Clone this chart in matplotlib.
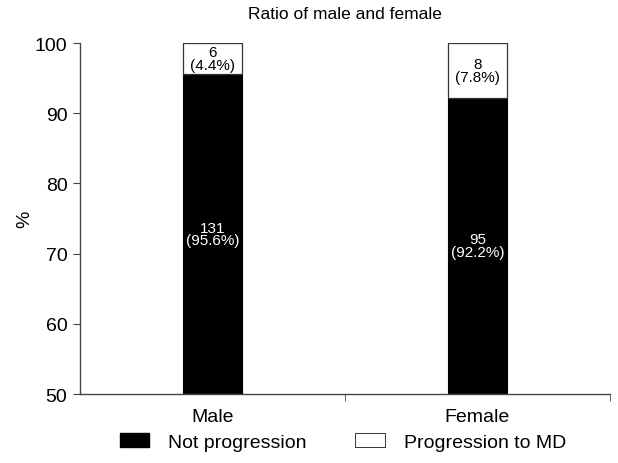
import matplotlib
matplotlib.use("Agg")
import matplotlib.pyplot as plt
from matplotlib.patches import Patch

plt.rcParams['font.family'] = ['Liberation Sans', 'DejaVu Sans']

categories = ["Male", "Female"]
not_prog_n = [131, 95]
not_prog_pct = [95.6, 92.2]
prog_n = [6, 8]
prog_pct = [4.4, 7.8]
y_min, y_max = 50, 100
yticks = [50, 60, 70, 80, 90, 100]

fig = plt.figure(figsize=(6.18, 4.64), dpi=100)
ax = fig.add_axes([0.1294, 0.1487, 0.8576, 0.7563])

x = list(range(len(categories)))
w = 0.22
bottoms = [y_min] * len(x)
heights_black = [p - y_min for p in not_prog_pct]
ax.bar(x, heights_black, bottom=bottoms, width=w, color='black', edgecolor='black', linewidth=0.8, zorder=2)
ax.bar(x, prog_pct, bottom=not_prog_pct, width=w, color='white', edgecolor='#333333', linewidth=0.9, zorder=2)

for i in x:
    ax.text(i, (y_min + not_prog_pct[i]) / 2, f"{not_prog_n[i]}\n({not_prog_pct[i]}%)",
            ha='center', va='center', color='white', fontsize=11, linespacing=0.9)
    ax.text(i, not_prog_pct[i] + prog_pct[i] / 2, f"{prog_n[i]}\n({prog_pct[i]}%)",
            ha='center', va='center', color='black', fontsize=11, linespacing=0.9)

ax.set_xlim(-0.5, len(x) - 0.5)
ax.set_ylim(y_min, y_max)
ax.set_yticks(yticks)
ax.set_yticklabels([str(t) for t in yticks], fontsize=14)
ax.set_xticks(x)
ax.set_xticklabels(categories, fontsize=14)
ax.tick_params(axis='x', which='major', length=0, pad=10)
ax.set_xticks([0.5, 1.5], minor=True)
ax.tick_params(axis='x', which='minor', length=5, color='#444444')
ax.tick_params(axis='y', length=5, color='#444444', pad=4)
for s in ['top', 'right']:
    ax.spines[s].set_visible(False)
for s in ['left', 'bottom']:
    ax.spines[s].set_color('#444444')
    ax.spines[s].set_linewidth(1.0)

ax.set_ylabel('%', fontsize=14, labelpad=1)
ax.set_title('Ratio of male and female', fontsize=12.5, pad=18)

handles = [Patch(facecolor='black', edgecolor='black', label='Not progression'),
           Patch(facecolor='white', edgecolor='#333333', linewidth=0.7, label='Progression to MD')]
fig.legend(handles=handles, loc='lower center', bbox_to_anchor=(0.555, -0.012), ncol=2,
           frameon=False, fontsize=14, handlelength=1.5, handleheight=0.75,
           columnspacing=2.5, handletextpad=1.0)

fig.savefig('out.png', dpi=100)
